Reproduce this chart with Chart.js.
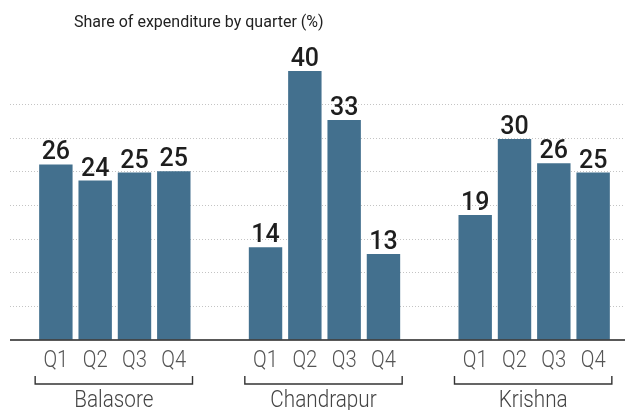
<!DOCTYPE html>
<html>
<head>
<meta charset="utf-8">
<script src="https://cdn.jsdelivr.net/npm/chart.js@4/dist/chart.umd.min.js"></script>
<style>
  html, body { margin: 0; padding: 0; background: #fff; overflow: hidden; }
  .wrap { width: 650px; height: 410px; position: relative; }
</style>
</head>
<body>
<div class="wrap"><canvas id="chart" width="650" height="410"></canvas></div>
<script>
const districts = ['Balasore', 'Chandrapur', 'Krishna'];
const quarters = ['Q1', 'Q2', 'Q3', 'Q4'];
const balasore = [26.1, 23.7, 24.9, 25.1];
const chandrapur = [13.8, 40, 32.7, 12.8];
const krishna = [18.6, 29.9, 26.3, 24.9];
const yTicks = [0, 5, 10, 15, 20, 25, 30, 35, 40];
const title = 'Share of expenditure by quarter (%)';

const barColor = '#43708e';
const byDistrict = [balasore, chandrapur, krishna];

// one dataset per quarter, grouped by district
const datasets = quarters.map((q, i) => ({
  label: q,
  data: byDistrict.map(d => d[i]),
  backgroundColor: barColor,
  categoryPercentage: 0.75,
  barPercentage: 0.85
}));

// narrow light text, like the condensed face in the original
function narrowText(ctx, txt, x, y, squeeze) {
  ctx.save();
  ctx.translate(x, y);
  ctx.scale(squeeze, 1);
  ctx.fillText(txt, 0, 0);
  ctx.restore();
}

const extras = {
  id: 'extras',
  afterDraw(chart) {
    const ctx = chart.ctx;
    const area = chart.chartArea;
    ctx.save();

    // title
    ctx.fillStyle = '#222';
    ctx.font = '16px Roboto';
    ctx.textAlign = 'left';
    ctx.textBaseline = 'middle';
    ctx.fillText(title, 74, 23);

    // baseline
    const y0 = chart.scales.y.getPixelForValue(0);
    ctx.strokeStyle = '#222';
    ctx.lineWidth = 1.6;
    ctx.beginPath();
    ctx.moveTo(area.left, y0);
    ctx.lineTo(chart.width, y0);
    ctx.stroke();

    // value labels + quarter labels
    chart.data.datasets.forEach((ds, di) => {
      const meta = chart.getDatasetMeta(di);
      meta.data.forEach((bar, i) => {
        ctx.fillStyle = '#1e1e1e';
        ctx.font = '500 25px Roboto';
        ctx.textAlign = 'center';
        ctx.textBaseline = 'alphabetic';
        ctx.fillText(String(Math.round(ds.data[i])), bar.x, bar.y - 5);

        ctx.fillStyle = '#555';
        ctx.font = '300 23px Roboto';
        narrowText(ctx, ds.label, bar.x, y0 + 27, 0.88);
      });
    });

    // brackets + district names
    const first = chart.getDatasetMeta(0).data;
    const last = chart.getDatasetMeta(quarters.length - 1).data;
    districts.forEach((name, i) => {
      const l = first[i].x - first[i].width / 2 - 4;
      const r = last[i].x + last[i].width / 2 + 2;
      ctx.strokeStyle = '#333';
      ctx.lineWidth = 1.4;
      ctx.beginPath();
      ctx.moveTo(l, y0 + 36);
      ctx.lineTo(l, y0 + 44);
      ctx.lineTo(r, y0 + 44);
      ctx.lineTo(r, y0 + 36);
      ctx.stroke();

      ctx.fillStyle = '#444';
      ctx.font = '300 23px Roboto';
      ctx.textAlign = 'center';
      narrowText(ctx, name, (l + r) / 2, y0 + 67, 0.9);
    });
    ctx.restore();
  }
};

new Chart(document.getElementById('chart').getContext('2d'), {
  type: 'bar',
  data: { labels: districts, datasets: datasets },
  options: {
    responsive: false,
    animation: false,
    layout: { padding: { top: 71, left: 10, right: 11, bottom: 70 } },
    plugins: { legend: { display: false }, tooltip: { enabled: false } },
    scales: {
      x: { display: false },
      y: {
        min: 0,
        max: 40,
        afterBuildTicks: axis => { axis.ticks = yTicks.map(v => ({ value: v })); },
        ticks: { display: false },
        border: { display: false, dash: [1, 2] },
        grid: {
          drawTicks: false,
          lineWidth: 1,
          color: c => (c.tick.value === 0 || c.tick.value === 40) ? 'rgba(0,0,0,0)' : '#c4c4c4'
        }
      }
    }
  },
  plugins: [extras]
});
</script>
</body>
</html>
